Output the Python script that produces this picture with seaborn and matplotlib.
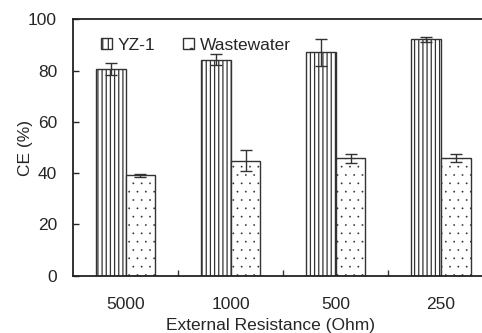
import matplotlib
matplotlib.use("Agg")
import matplotlib.pyplot as plt
import seaborn as sns
import pandas as pd
from matplotlib.patches import Patch

categories = ["5000", "1000", "500", "250"]
series = ["YZ-1", "Wastewater"]
yz1 = [80.6, 84.2, 87.2, 92.2]
yz1_err = [2.5, 2.2, 5.3, 1.0]
ww = [39.1, 44.9, 45.8, 45.8]
ww_err = [0.5, 4.0, 1.7, 1.5]

sns.set_style("white")
plt.rcParams['font.family'] = ['Liberation Sans', 'DejaVu Sans']
plt.rcParams['hatch.linewidth'] = 0.9

df = pd.DataFrame({
    "Resistance": categories * 2,
    "CE": yz1 + ww,
    "Series": [series[0]] * 4 + [series[1]] * 4,
})

fig = plt.figure(figsize=(4.82, 3.33), dpi=100)
ax = fig.add_axes([0.1515, 0.172, 0.8715, 0.770])

sns.barplot(data=df, x="Resistance", y="CE", hue="Series", order=categories,
            hue_order=series, palette=["white", "white"], width=0.57,
            errorbar=None, edgecolor="#333333", linewidth=1.0, ax=ax,
            legend=False, gap=0)

hatches = {series[0]: "||||", series[1]: ".."}
hlw = {series[0]: 0.9, series[1]: 0.1}
errs = {series[0]: yz1_err, series[1]: ww_err}
vals = {series[0]: yz1, series[1]: ww}
for cont, s in zip(ax.containers, series):
    xs = []
    for p in cont:
        p.set_hatch(hatches[s])
        p.set_edgecolor("#333333")
        if hasattr(p, "set_hatch_linewidth"):
            p.set_hatch_linewidth(hlw[s])
        xs.append(p.get_x() + p.get_width() / 2)
    ax.errorbar(xs, vals[s], yerr=errs[s], fmt="none", ecolor="#333333",
                elinewidth=1.0, capsize=4, capthick=1.0, zorder=5)

ax.set_xlim(-0.5, 3.5)
ax.set_ylim(0, 100)
ax.set_yticks([0, 20, 40, 60, 80, 100])
ax.set_xticks([0.5, 1.5, 2.5], minor=True)
ax.tick_params(axis="x", which="major", length=0, labelsize=12.5, pad=15)
ax.tick_params(axis="x", which="minor", direction="in", length=4, width=1, color="#333333", bottom=True)
ax.tick_params(axis="y", direction="in", length=4, width=1, labelsize=12.5, left=True, pad=11.5)
for sp in ["left", "bottom", "top"]:
    ax.spines[sp].set_linewidth(1.3)
    ax.spines[sp].set_color("#222222")
ax.spines["right"].set_visible(False)

ax.set_xlabel("External Resistance (Ohm)", fontsize=12.5)
ax.xaxis.set_label_coords(0.471, -0.163)
ax.set_ylabel("CE (%)", fontsize=12.5)
ax.yaxis.set_label_coords(-0.095, 0.5)

handles = [Patch(facecolor="white", edgecolor="#333333", hatch="|||", label="YZ-1"),
           Patch(facecolor="white", edgecolor="#333333", hatch=".", label="Wastewater")]
leg = ax.legend(handles=handles, ncol=2, frameon=False, loc="upper left",
                bbox_to_anchor=(0.03, 0.988), fontsize=12.5, handlelength=0.6,
                handleheight=0.6, handletextpad=0.35, columnspacing=1.6)

fig.savefig("out.png", dpi=100)
